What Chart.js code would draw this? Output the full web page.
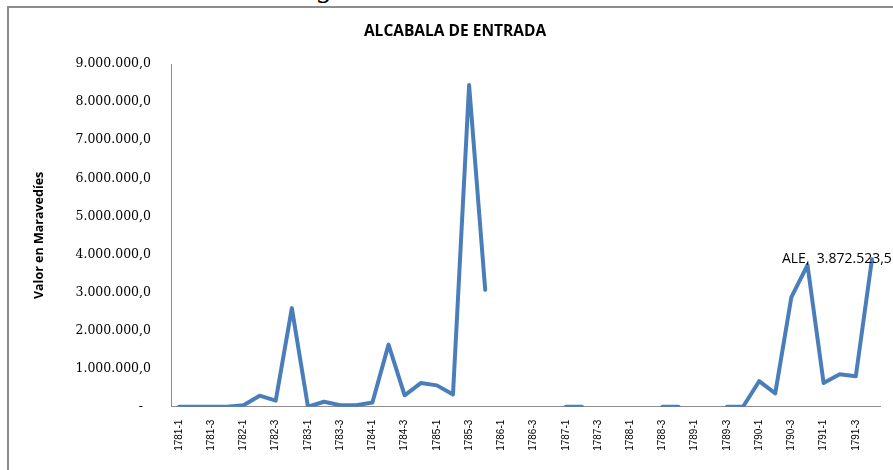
<!DOCTYPE html>
<html>
<head>
<meta charset="utf-8">
<script src="https://cdn.jsdelivr.net/npm/chart.js@4/dist/chart.umd.min.js"></script>
<style>
    html, body { margin: 0; padding: 0; background: #fff; overflow: hidden; }
    #wrap { position: relative; width: 893px; height: 470px; overflow: hidden; }
    #frame { position: absolute; left: 7px; top: 6px; width: 1000px; height: 600px; border: 2px solid #8c8c8c; pointer-events: none; }
    #docText { position: absolute; left: 318px; top: -28px; font: italic 30px/30px "Liberation Serif", serif; color: #000; }
    canvas { position: absolute; left: 0; top: 0; }
</style>
</head>
<body>
<div id="wrap">
    <div id="docText">g</div>
    <div id="frame"></div>
    <canvas id="chart" width="893" height="470"></canvas>
</div>
<script>
// Quarters 1781-1 .. 1791-4
var years = [1781, 1782, 1783, 1784, 1785, 1786, 1787, 1788, 1789, 1790, 1791];
var quarters = [];
years.forEach(function(y) {
    for (var q = 1; q <= 4; q++) quarters.push(y + '-' + q);
});

var seriesName = 'ALE';
// Valor en maravedíes (null = sin dato)
var ale1781 = [0, 0, 0, 0];
var ale1782 = [40000, 290000, 160000, 2590000];
var ale1783 = [0, 130000, 40000, 40000];
var ale1784 = [110000, 1630000, 300000, 620000];
var ale1785 = [560000, 320000, 8450000, 3070000];
var ale1786 = [null, null, null, null];
var ale1787 = [0, 0, null, null];
var ale1788 = [null, null, 0, 0];
var ale1789 = [null, null, 0, 0];
var ale1790 = [670000, 350000, 2880000, 3720000];
var ale1791 = [620000, 850000, 800000, 3872523.5];

var values = [].concat(ale1781, ale1782, ale1783, ale1784, ale1785, ale1786,
                       ale1787, ale1788, ale1789, ale1790, ale1791);

var yTicks = [0, 1000000, 2000000, 3000000, 4000000, 5000000, 6000000, 7000000, 8000000, 9000000];

function fmtNum(v, dec) {
    var parts = v.toFixed(dec).split('.');
    var ent = parts[0].replace(/\B(?=(\d{3})+(?!\d))/g, '.');
    return parts.length > 1 ? ent + ',' + parts[1] : ent;
}

// etiqueta del último punto
var lastLabel = {
    id: 'lastLabel',
    afterDatasetsDraw: function(chart) {
        var meta = chart.getDatasetMeta(0);
        var i = values.length - 1;
        var pt = meta.data[i];
        var ctx = chart.ctx;
        ctx.save();
        ctx.font = '14px "Open Sans", sans-serif';
        ctx.fillStyle = '#000';
        ctx.textAlign = 'left';
        ctx.textBaseline = 'middle';
        ctx.fillText(seriesName + ',  ' + fmtNum(values[i], 1), pt.x - 90, pt.y);
        ctx.restore();
    }
};

var ctx = document.getElementById('chart').getContext('2d');
new Chart(ctx, {
    type: 'line',
    data: {
        labels: quarters,
        datasets: [{
            label: seriesName,
            data: values,
            borderColor: '#4a7ebb',
            borderWidth: 4,
            borderJoinStyle: 'round',
            borderCapStyle: 'round',
            pointRadius: 0,
            tension: 0,
            spanGaps: false,
            fill: false
        }]
    },
    options: {
        responsive: false,
        animation: false,
        layout: { padding: { left: 30, right: 13, top: 0, bottom: 0 } },
        plugins: {
            legend: { display: false },
            tooltip: { enabled: false },
            title: {
                display: true,
                text: 'ALCABALA DE ENTRADA',
                color: '#000',
                font: { family: '"Open Sans", sans-serif', size: 15.5, weight: 'bold' },
                padding: { top: 22.5, bottom: 23 }
            }
        },
        scales: {
            x: {
                offset: true,
                grid: { display: false, drawTicks: false },
                border: { display: true, color: '#8c8c8c', width: 1 },
                ticks: {
                    autoSkip: false,
                    minRotation: 90,
                    maxRotation: 90,
                    padding: 13,
                    color: '#000',
                    font: { family: '"Liberation Sans", sans-serif', size: 10 },
                    callback: function(v, i) { return i % 2 === 0 ? quarters[i] : ''; }
                },
                afterFit: function(s) {
                    s.height = 63.3;
                    s.paddingLeft = 0;
                    s.paddingRight = 0;
                }
            },
            y: {
                min: 0,
                max: 9000000,
                afterBuildTicks: function(s) { s.ticks = yTicks.map(function(v) { return { value: v }; }); },
                grid: { display: false, drawTicks: false },
                border: { display: true, color: '#8c8c8c', width: 1 },
                ticks: {
                    padding: 20,
                    color: '#000',
                    font: { family: '"DejaVu Serif", serif', size: 12.5 },
                    callback: function(v) { return v === 0 ? '-  ' : fmtNum(v, 1); }
                },
                title: {
                    display: true,
                    text: 'Valor en Maravedíes',
                    color: '#000',
                    font: { family: '"Open Sans", sans-serif', size: 12.5, weight: 'bold' },
                    padding: { top: 2, bottom: 0 }
                },
                afterFit: function(s) { s.width = 141; }
            }
        }
    },
    plugins: [lastLabel]
});
</script>
</body>
</html>
